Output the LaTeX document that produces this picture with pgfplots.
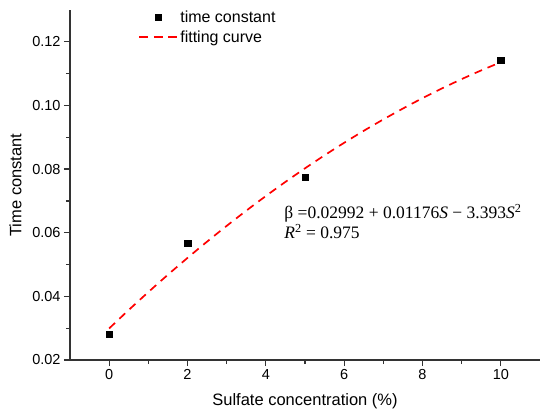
\documentclass[border=0pt]{standalone}
\usepackage{graphicx}
\usepackage{pgfplots}
\pgfplotsset{compat=1.18}
\usepackage{fontspec}
\setmainfont{Liberation Sans}
\newfontfamily\serifform{Liberation Serif}
\pgfplotsset{
  markleg/.style={legend image code/.code={\draw[mark repeat=2,mark phase=2,##1] plot coordinates {(0bp,0bp) (19bp,0bp) (38bp,0bp)};}},
  lineleg/.style={legend image code/.code={\draw[color=red, draw=red, line width=1.8pt, dash pattern=on 9bp off 5.5bp] (0bp,0bp) -- (38bp,0bp);}},
}
\begin{document}
\begin{tikzpicture}
\useasboundingbox (-70bp,-57bp) rectangle (480bp,360bp);
\begin{axis}[
  scale only axis,
  width=470bp, height=350bp,
  xmin=-1, xmax=11, ymin=0.02, ymax=0.13,
  axis x line*=bottom, axis y line*=left,
  axis line style={line width=1.3pt, -, black!80},
  xtick={0,2,...,10}, ytick={0.02,0.04,...,0.12},
  minor x tick num=1, minor y tick num=1,
  tick align=outside,
  major tick length=6bp, minor tick length=4bp,
  tick style={line width=1.2pt, black!80},
  /pgf/number format/assume math mode=true,
  yticklabel style={/pgf/number format/fixed, /pgf/number format/fixed zerofill, /pgf/number format/precision=2, font=\fontsize{14.5bp}{16bp}\selectfont},
  xticklabel style={font=\fontsize{14.5bp}{16bp}\selectfont},
  scaled y ticks=false,
  xlabel={Sulfate concentration (\%)},
  ylabel={Time constant},
  label style={font=\fontsize{16.5bp}{19bp}\selectfont},
  xlabel style={yshift=-7bp},
  ylabel style={yshift=4bp},
  legend style={draw=none, fill=none, at={(0.139,1.01)}, anchor=north west,
    font=\fontsize{16bp}{18bp}\selectfont, row sep=3bp,
    legend cell align=left,
    nodes={inner xsep=2bp}},
  clip=false,
]
\addplot[only marks, mark=square*, mark size=3.2bp, black, markleg] coordinates {
(0,0.0282) (2,0.0567) (5,0.0775) (10,0.1143)
};
\addlegendentry{time constant}
\addplot[red, line width=1.7pt, dash pattern=on 8bp off 6bp, smooth, lineleg] coordinates {
(0,0.02992) (0.5,0.03572) (1,0.04134) (1.5,0.04680) (2,0.05208)
(2.5,0.05720) (3,0.06215) (3.5,0.06692) (4,0.07153) (4.5,0.07597)
(5,0.08024) (5.5,0.08434) (6,0.08827) (6.5,0.09203) (7,0.09561)
(7.5,0.09903) (8,0.10229) (8.5,0.10537) (9,0.10828) (9.5,0.11102)
(10,0.11359)
};
\addlegendentry{fitting curve}
\node[anchor=west, inner sep=0pt, font=\serifform\fontsize{17.5bp}{19bp}\selectfont] at (axis cs:4.47,0.0662) {β =0.02992 + 0.01176\textit{S} − 3.393\textit{S}\textsuperscript{2}};
\node[anchor=west, inner sep=0pt, font=\serifform\fontsize{17.5bp}{19bp}\selectfont] at (axis cs:4.47,0.0603) {\textit{R}\textsuperscript{2} = 0.975};
\end{axis}
\end{tikzpicture}
\end{document}
